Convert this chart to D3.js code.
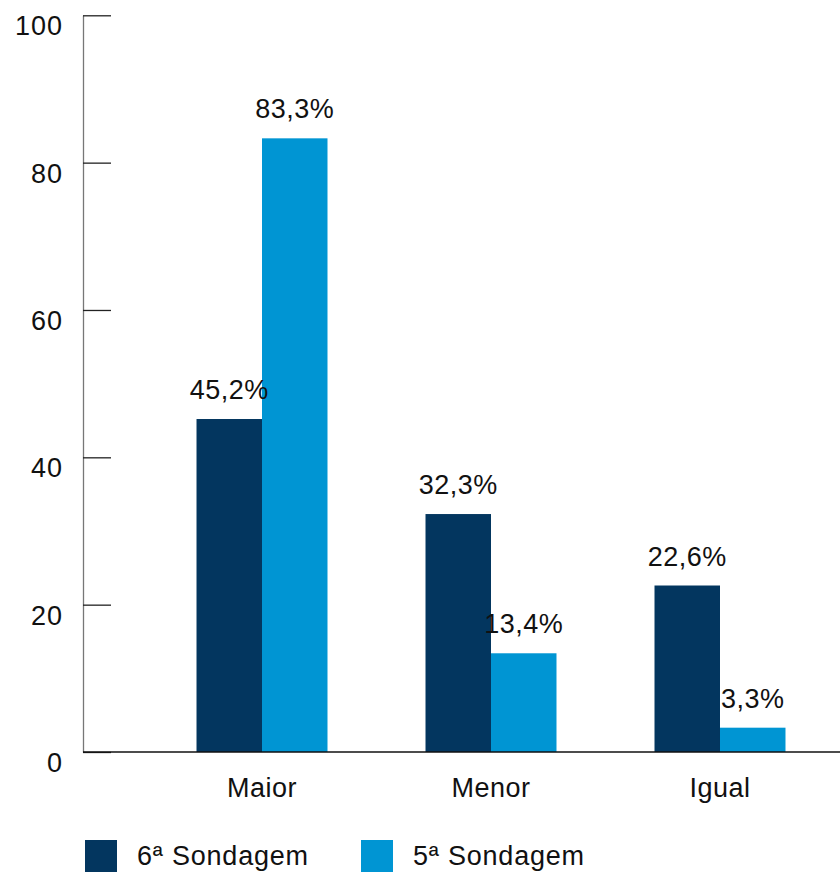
<!DOCTYPE html>
<meta charset="utf-8">
<script src="https://d3js.org/d3.v7.min.js"></script>
<style>
  body { margin: 0; background: #fff; }
  text { font-family: "Liberation Sans", Arial, sans-serif; fill: #111; }
</style>
<div id="chart"></div>
<script>
  // data
  var categories = ["Maior", "Menor", "Igual"];
  var seriesNames = ["6ª Sondagem", "5ª Sondagem"];
  var sondagem6 = [45.2, 32.3, 22.6];
  var sondagem5 = [83.3, 13.4, 3.3];
  var yTicks = [0, 20, 40, 60, 80, 100];

  var width = 840, height = 872;
  var colors = ["#03365f", "#0095d3"];
  var fs = 27;

  var svg = d3.select("#chart").append("svg")
    .attr("width", width)
    .attr("height", height);

  var y = d3.scaleLinear().domain([0, 100]).range([752, 15.3]);

  // outer band runs past the right edge, like the original
  var x0 = d3.scaleBand().domain(categories).range([98.5, 883.5]).padding(0.428);
  var x1 = d3.scaleBand().domain(seriesNames).range([0, x0.bandwidth()]);

  var rows = categories.map(function (c, i) {
    return { cat: c, vals: [sondagem6[i], sondagem5[i]] };
  });

  // y axis, ticks pointing inward
  var yAxis = svg.append("g")
    .attr("transform", "translate(83,0)")
    .call(d3.axisLeft(y).tickValues(yTicks).tickSizeInner(-28).tickSizeOuter(0).tickPadding(20));
  yAxis.select(".domain").attr("stroke", "#777").attr("stroke-width", 1.3);
  yAxis.selectAll(".tick line").attr("stroke", "#222").attr("stroke-width", 1.3);
  yAxis.selectAll(".tick text")
    .attr("font-size", fs)
    .attr("letter-spacing", 1)
    .attr("dy", "0.72em")
    .attr("fill", "#111")
    .style("font-family", "'Liberation Sans', Arial, sans-serif");

  // bars
  var groups = svg.selectAll(".grp").data(rows).enter().append("g")
    .attr("transform", function (d) { return "translate(" + x0(d.cat) + ",0)"; });

  groups.selectAll("rect")
    .data(function (d) { return d.vals.map(function (v, i) { return { key: seriesNames[i], v: v, i: i }; }); })
    .enter().append("rect")
    .attr("x", function (d) { return x1(d.key); })
    .attr("width", x1.bandwidth())
    .attr("y", function (d) { return y(d.v); })
    .attr("height", function (d) { return y(0) - y(d.v); })
    .attr("fill", function (d) { return colors[d.i]; });

  groups.selectAll(".lbl")
    .data(function (d) { return d.vals.map(function (v, i) { return { key: seriesNames[i], v: v }; }); })
    .enter().append("text")
    .attr("class", "lbl")
    .attr("x", function (d) { return x1(d.key) + x1.bandwidth() / 2; })
    .attr("y", function (d) { return y(d.v) - 20; })
    .attr("text-anchor", "middle")
    .attr("font-size", fs)
    .attr("letter-spacing", 0.5)
    .text(function (d) { return d3.format(".1f")(d.v).replace(".", ",") + "%"; });

  // baseline
  svg.append("line")
    .attr("x1", 83).attr("x2", width)
    .attr("y1", y(0)).attr("y2", y(0))
    .attr("stroke", "#111").attr("stroke-width", 1.5);

  // category labels
  svg.selectAll(".cat").data(categories).enter().append("text")
    .attr("x", function (d) { return x0(d) + x0.bandwidth() / 2; })
    .attr("y", 797)
    .attr("text-anchor", "middle")
    .attr("font-size", fs)
    .attr("letter-spacing", 0.5)
    .text(function (d) { return d; });

  // legend
  var legendX = [85, 361];
  var leg = svg.selectAll(".leg").data(seriesNames).enter().append("g")
    .attr("transform", function (d, i) { return "translate(" + legendX[i] + ",840)"; });
  leg.append("rect").attr("width", 32).attr("height", 32)
    .attr("fill", function (d, i) { return colors[i]; });
  leg.append("text").attr("x", 52).attr("y", 25)
    .attr("font-size", fs)
    .attr("letter-spacing", 0.8)
    .text(function (d) { return d; });
</script>
